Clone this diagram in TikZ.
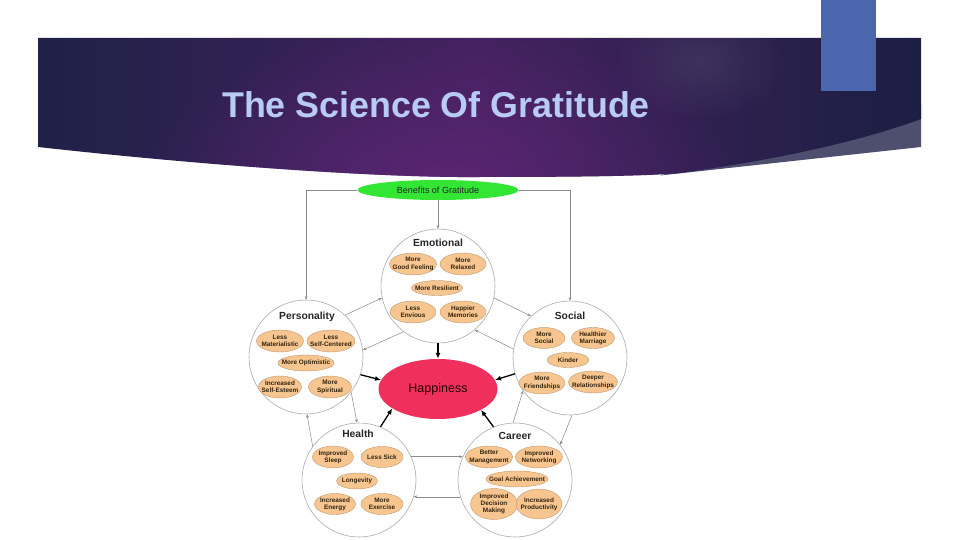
\documentclass[tikz,border=0pt]{standalone}
\usepackage{fontspec}
\setmainfont{Liberation Sans}
\usetikzlibrary{shapes.geometric,arrows.meta,fadings}
\tikzfading[name=myfade, inner color=transparent!0, outer color=transparent!100]
\definecolor{navyL}{HTML}{1F2147}
\definecolor{purpM}{HTML}{43215E}
\definecolor{navyR}{HTML}{1B1F42}
\definecolor{glowP}{HTML}{5E2676}
\definecolor{bandC}{HTML}{4E4E6E}
\definecolor{blueR}{HTML}{4A66AD}
\definecolor{titleC}{HTML}{B7CBF4}
\definecolor{greenB}{HTML}{33E633}
\definecolor{peach}{HTML}{F7C590}
\definecolor{peachD}{HTML}{BF9870}
\definecolor{happyC}{HTML}{F0305C}
\definecolor{ovtxt}{HTML}{33240F}
\definecolor{lineC}{HTML}{8A8A8A}
\definecolor{circC}{HTML}{ABABAB}
\tikzset{
  circ/.style={circle, draw=circC, line width=0.6pt, fill=white, minimum size=114pt, inner sep=0pt},
  ctitle/.style={font=\bfseries\fontsize{10.3}{12}\selectfont, text=black!85, inner sep=0pt},
  ovalshape/.style={ellipse, draw=peachD, line width=0.4pt, fill=peach, inner sep=0pt},
  ovaltext/.style={font=\bfseries\fontsize{6.4}{7.2}\selectfont, text=ovtxt, align=center, inner sep=0pt},
  thin arrow/.style={draw=lineC, line width=0.5pt, -{Stealth[length=3.5pt,width=2.8pt]}},
  thick arrow/.style={draw=black, line width=1.3pt, -{Latex[length=6pt,width=5pt]}},
}
\newcommand{\ov}[5]{\node[ovalshape, minimum width=#3pt, minimum height=#4pt] (#1) at (#2) {};
  \node[ovaltext] (#1t) at (#1) {#5};}
\begin{document}
\begin{tikzpicture}[x=1pt,y=-1pt]
\useasboundingbox (0,0) rectangle (960,540);
\fill[white] (0,0) rectangle (960,540);
% banner
\fill[bandC] (660,175.5) -- (921,147) -- (921,105) -- cycle;
\def\bannerpath{(38,38) -- (921,38) -- (921,119) .. controls (850,145) and (760,162) .. (680,173) .. controls (650,176) and (580,177) .. (480,177) .. controls (380,178) and (200,165) .. (38,147) -- cycle}
\path[left color=navyL, right color=navyR, middle color=purpM] \bannerpath;
\begin{scope}
\clip \bannerpath;
\fill[glowP, path fading=myfade, fill opacity=0.9] (440,190) ellipse (300 and 170);
\fill[white, path fading=myfade, fill opacity=0.08] (700,62) ellipse (90 and 60);
\end{scope}
\fill[blueR] (821,0) rectangle (876,91);
\node[font=\bfseries\fontsize{35.8}{40}\selectfont, text=titleC, inner sep=0pt] (title) at (436,105) {The Science Of Gratitude};
% top node
\node[ellipse, fill=greenB, minimum width=161pt, minimum height=20pt, inner sep=0pt, font=\fontsize{9}{10}\selectfont, text=black!85] (ben) at (438,190) {Benefits of Gratitude};
% circles
\node[circ] (emo) at (438,286) {};
\node[circ] (per) at (306,357) {};
\node[circ] (soc) at (570,358) {};
\node[circ] (hea) at (359,480) {};
\node[circ] (car) at (515,480) {};
\node[ellipse, fill=happyC, minimum width=119pt, minimum height=60pt, inner sep=0pt, font=\fontsize{12.5}{14}\selectfont, text=black!85!red] (hap) at (438,389) {Happiness};
% titles
\node[ctitle] (emoT) at (438,243) {Emotional};
\node[ctitle] (perT) at (307,317) {Personality};
\node[ctitle] (socT) at (570,316) {Social};
\node[ctitle] (heaT) at (358,434) {Health};
\node[ctitle] (carT) at (515,436) {Career};
% emotional ovals
\ov{e1}{413,264}{47}{22}{More\\Good Feeling}
\ov{e2}{463,264}{46}{22}{More\\Relaxed}
\ov{e3}{437,288}{51}{15}{More Resilient}
\ov{e4}{413,312}{46}{22}{Less\\Envious}
\ov{e5}{463,312}{46}{22}{Happier\\Memories}
% personality ovals
\ov{p1}{280,341}{47}{22}{Less\\Materialistic}
\ov{p2}{331,341}{48}{22}{Less\\Self-Centered}
\ov{p3}{306,363}{56}{16}{More Optimistic}
\ov{p4}{280,387}{43}{22}{Increased\\Self-Esteem}
\ov{p5}{330,387}{43}{22}{More\\Spiritual}
% social ovals
\ov{s1}{544,338}{42}{21}{More\\Social}
\ov{s2}{593,338}{43}{21}{Healthier\\Marriage}
\ov{s3}{568,360}{42}{15}{Kinder}
\ov{s4}{542,383}{46}{22}{More\\Friendships}
\ov{s5}{593,382}{49}{22}{Deeper\\Relationships}
% health ovals
\ov{h1}{333,457}{41}{22}{Improved\\Sleep}
\ov{h2}{382,457}{42}{21}{Less Sick}
\ov{h3}{357,481}{41}{16}{Longevity}
\ov{h4}{335,504}{41}{21}{Increased\\Energy}
\ov{h5}{382,504}{42}{21}{More\\Exercise}
% career ovals
\ov{c1}{489,457}{47}{22}{Better\\Management}
\ov{c2}{539,457}{47}{22}{Improved\\Networking}
\ov{c3}{517,479}{62}{16}{Goal Achievement}
\ov{c4}{494,504}{47}{31}{Improved\\Decision\\Making}
\ov{c5}{539,504}{46}{30}{Increased\\Productivity}
% connectors from top
\draw[thin arrow] (ben) -- (emo);
\draw[thin arrow] (ben.west) -| (per.north);
\draw[thin arrow] (ben.east) -| (soc.north);
% between circles
\draw[thin arrow] (per.47) -- (emo.192);
\draw[thin arrow] (emo.233) -- (per.7);
\draw[thin arrow] (emo.348) -- (soc.133);
\draw[thin arrow] (soc.171) -- (emo.310);
\draw[thin arrow] (per.322) -- (hea.92);
\draw[thin arrow] (hea.144) -- (per.271);
\draw[thin arrow] (car.92) -- (soc.215);
\draw[thin arrow] (soc.272) -- (car.38);
\draw[thin arrow] (hea.24) -- (car.156);
\draw[thin arrow] (car.197) -- (hea.343);
% to happiness
\draw[thick arrow] (emo.south) -- (hap.north);
\draw[thick arrow] (per.342) -- (hap.171);
\draw[thick arrow] (soc.196) -- (hap.9);
\draw[thick arrow] (hea.68) -- (hap.203);
\draw[thick arrow] (car.112) -- (hap.334);
\end{tikzpicture}
\end{document}
